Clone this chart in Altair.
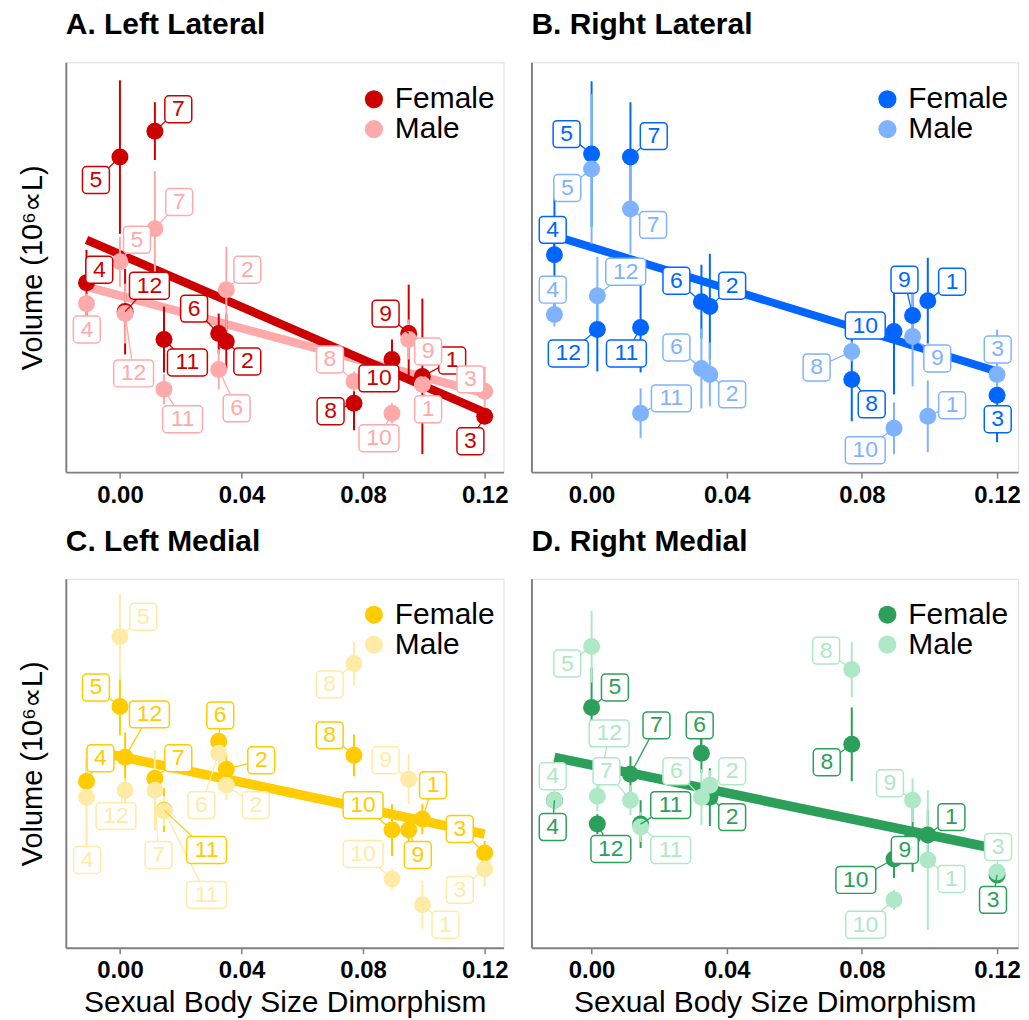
import altair as alt
import pandas as pd

FONT = "Liberation Sans"

species = [1, 2, 3, 4, 5, 6, 7, 8, 9, 10, 11, 12]
ssd = [0.0995, 0.035, 0.12, -0.011, 0.0, 0.0325, 0.0115, 0.077, 0.095, 0.0895, 0.0145, 0.0017]
x_ticks = [0.0, 0.04, 0.08, 0.12]
line_x = [-0.011, 0.12]

# ---- Panel A: Left Lateral (relative volume units) ----
A_female_vol = [96, 131, 56, 190, 316, 139, 342, 69, 139, 113, 133, 161]
A_female_err = [78, 28, 8, 33, 77, 20, 29, 27, 49, 20, 33, 43]
A_male_vol = [88, 183, 81, 169, 211, 103, 244, 91, 133, 59, 83, 159]
A_male_err = [8, 43, 25, 10, 25, 20, 58, 10, 20, 10, 15, 30]
A_female_lab_x = [0.1093, 0.0419, 0.1153, -0.0068, -0.0079, 0.0244, 0.0192, 0.0693, 0.0874, 0.0852, 0.0222, 0.0097]
A_female_lab_y = [112, 111, 31, 203, 293, 164, 364, 61, 159, 94, 110, 187]
A_male_lab_x = [0.1014, 0.0419, 0.1153, -0.0109, 0.0056, 0.0384, 0.0195, 0.0691, 0.1014, 0.0852, 0.0206, 0.0045]
A_male_lab_y = [63, 203, 93, 143, 233, 64, 271, 113, 121, 34, 53, 99]
A_fit_female = [233, 60]
A_fit_male = [186, 79]

# ---- Panel B: Right Lateral ----
B_female_vol = [172, 166, 77, 218, 319, 171, 316, 93, 157, 141, 145, 143]
B_female_err = [43, 53, 47, 61, 73, 37, 55, 42, 25, 63, 45, 42]
B_male_vol = [56, 98, 98, 158, 304, 104, 264, 121, 136, 44, 59, 177]
B_male_err = [36, 32, 45, 12, 75, 40, 45, 10, 50, 26, 25, 39]
B_female_lab_x = [0.1067, 0.0416, 0.1202, -0.0115, -0.0074, 0.0251, 0.0184, 0.0829, 0.0926, 0.081, 0.0103, -0.0069]
B_female_lab_y = [191, 187, 53, 243, 339, 192, 337, 68, 193, 147, 119, 119]
B_male_lab_x = [0.1067, 0.0416, 0.1202, -0.0115, -0.0072, 0.0251, 0.0182, 0.0666, 0.1023, 0.081, 0.0236, 0.0101]
B_male_lab_y = [67, 78, 123, 183, 285, 125, 248, 105, 114, 22, 74, 201]
B_fit_female = [237, 101]

# ---- Panel C: Left Medial ----
C_female_vol = [129, 179, 95, 167, 242, 207, 170, 193, 118, 118, 138, 191]
C_female_err = [15, 15, 12, 22, 29, 8, 10, 21, 15, 26, 22, 25]
C_male_vol = [43, 163, 79, 151, 312, 195, 158, 285, 169, 69, 137, 158]
C_male_err = [24, 15, 18, 48, 43, 12, 40, 22, 25, 10, 15, 12]
C_female_lab_x = [0.103, 0.0465, 0.1118, -0.0064, -0.0079, 0.033, 0.0192, 0.069, 0.098, 0.08, 0.0285, 0.0097]
C_female_lab_y = [163, 188, 119, 190, 261, 233, 190, 213, 93, 143, 98, 234]
C_male_lab_x = [0.1071, 0.0447, 0.1118, -0.0108, 0.0077, 0.0268, 0.0127, 0.069, 0.0874, 0.08, 0.0285, -0.0013]
C_male_lab_y = [23, 143, 58, 88, 332, 143, 93, 264, 188, 94, 53, 132]
C_fit_female = [199, 114]

# ---- Panel D: Right Medial ----
D_female_vol = [113, 151, 73, 148, 241, 195, 174, 204, 111, 89, 124, 124]
D_female_err = [25, 29, 8, 8, 40, 20, 18, 37, 35, 19, 24, 10]
D_male_vol = [88, 163, 76, 148, 302, 151, 148, 279, 148, 48, 121, 152]
D_male_err = [70, 15, 8, 8, 36, 28, 15, 28, 22, 10, 15, 15]
D_female_lab_x = [0.1065, 0.0416, 0.1188, -0.0115, 0.0069, 0.032, 0.0192, 0.0696, 0.0927, 0.0782, 0.0234, 0.0057]
D_female_lab_y = [131, 131, 48, 121, 261, 223, 223, 186, 98, 68, 143, 99]
D_male_lab_x = [0.1065, 0.0416, 0.1203, -0.0115, -0.0072, 0.0251, 0.0044, 0.0694, 0.0883, 0.0811, 0.0234, 0.0052]
D_male_lab_y = [69, 177, 101, 172, 285, 177, 177, 298, 165, 23, 98, 215]
D_fit_female = [191, 99]

X_DOMAIN = [-0.0178, 0.1262]


def build_panel(title, f_vol, f_err, m_vol, m_err, flx, fly, mlx, mly, fits,
                colors, width, height, ymax, ytitle, xtitle, leg_x, leg_y, fit_w):
    rows = []
    for sex, vol, err, lx, ly in [("Female", f_vol, f_err, flx, fly),
                                  ("Male", m_vol, m_err, mlx, mly)]:
        for i in range(12):
            rows.append(dict(sp=species[i], ssd=ssd[i], vol=vol[i],
                             lo=vol[i] - err[i], hi=vol[i] + err[i],
                             lx=lx[i], ly=ly[i], sex=sex, col=colors[sex],
                             lab=str(species[i]), nd=len(str(species[i]))))
    df = pd.DataFrame(rows)
    fit_rows = []
    for sex, ys in fits:
        fit_rows.append(dict(x=line_x[0], x2=line_x[1], y=ys[0], y2=ys[1], col=colors[sex]))
    dfl = pd.DataFrame(fit_rows)

    xs = alt.Scale(domain=X_DOMAIN, nice=False, zero=False)
    ys_ = alt.Scale(domain=[0, ymax], nice=False, zero=False)
    if xtitle:
        xa = alt.Axis(values=x_ticks, format=".2f", title=xtitle)
    else:
        xa = alt.Axis(values=x_ticks, format=".2f", title=None)
    if ytitle:
        ya = alt.Axis(title=ytitle)
    else:
        ya = alt.Axis(title=None)

    colnone = alt.Color("col:N", scale=None)

    fit = alt.Chart(dfl).mark_rule(strokeWidth=fit_w, strokeCap="butt").encode(
        x=alt.X("x:Q", scale=xs, axis=xa), x2="x2:Q",
        y=alt.Y("y:Q", scale=ys_, axis=ya), y2="y2:Q",
        color=colnone)
    err = alt.Chart(df).mark_rule(strokeWidth=2).encode(
        x=alt.X("ssd:Q", scale=xs, axis=xa),
        y=alt.Y("lo:Q", scale=ys_, axis=ya), y2="hi:Q",
        color=colnone)
    pts = alt.Chart(df).mark_circle(size=290, opacity=1).encode(
        x=alt.X("ssd:Q", scale=xs, axis=xa),
        y=alt.Y("vol:Q", scale=ys_, axis=ya),
        color=alt.Color("sex:N",
                        scale=alt.Scale(domain=["Female", "Male"],
                                        range=[colors["Female"], colors["Male"]]),
                        legend=alt.Legend(title=None, orient="none",
                                          legendX=leg_x, legendY=leg_y)))
    seg = alt.Chart(df).mark_rule(strokeWidth=1.3).encode(
        x=alt.X("ssd:Q", scale=xs, axis=xa), x2="lx:Q",
        y=alt.Y("vol:Q", scale=ys_, axis=ya), y2="ly:Q",
        color=colnone)
    box1 = alt.Chart(df).transform_filter(alt.datum.nd == 1).mark_rect(
        width=27, height=27, cornerRadius=4, fill="white", strokeWidth=1.5).encode(
        x=alt.X("lx:Q", scale=xs, axis=xa),
        y=alt.Y("ly:Q", scale=ys_, axis=ya),
        stroke=alt.Stroke("col:N", scale=None))
    box2 = alt.Chart(df).transform_filter(alt.datum.nd == 2).mark_rect(
        width=40, height=27, cornerRadius=4, fill="white", strokeWidth=1.5).encode(
        x=alt.X("lx:Q", scale=xs, axis=xa),
        y=alt.Y("ly:Q", scale=ys_, axis=ya),
        stroke=alt.Stroke("col:N", scale=None))
    txt = alt.Chart(df).mark_text(font=FONT, fontSize=23, baseline="middle", align="center").encode(
        x=alt.X("lx:Q", scale=xs, axis=xa),
        y=alt.Y("ly:Q", scale=ys_, axis=ya),
        text="lab:N",
        color=colnone)
    return alt.layer(fit, err, pts, seg, box1, box2, txt).properties(
        width=width, height=height,
        title=alt.TitleParams(title, anchor="start", fontSize=30, fontWeight="bold",
                              font=FONT, color="black", offset=-2,
                              baseline="alphabetic", frame="group"))


YT = "Volume (10\u2076\u221dL)"
XT = "Sexual Body Size Dimorphism"

pA = build_panel("A. Left Lateral", A_female_vol, A_female_err, A_male_vol, A_male_err,
                 A_female_lab_x, A_female_lab_y, A_male_lab_x, A_male_lab_y,
                 [("Male", A_fit_male), ("Female", A_fit_female)],
                 {"Female": "#CC0000", "Male": "#FFAAAA"}, 439, 411, 411, YT, None, 294, 22, 8.5)
pB = build_panel("B. Right Lateral", B_female_vol, B_female_err, B_male_vol, B_male_err,
                 B_female_lab_x, B_female_lab_y, B_male_lab_x, B_male_lab_y,
                 [("Female", B_fit_female)],
                 {"Female": "#0066FF", "Male": "#80B3FF"}, 488, 411, 411, None, None, 342, 22, 8)
pC = build_panel("C. Left Medial", C_female_vol, C_female_err, C_male_vol, C_male_err,
                 C_female_lab_x, C_female_lab_y, C_male_lab_x, C_male_lab_y,
                 [("Female", C_fit_female)],
                 {"Female": "#FFCC00", "Male": "#FFEBA5"}, 439, 370, 370, YT, XT, 294, 21, 9.5)
pD = build_panel("D. Right Medial", D_female_vol, D_female_err, D_male_vol, D_male_err,
                 D_female_lab_x, D_female_lab_y, D_male_lab_x, D_male_lab_y,
                 [("Female", D_fit_female)],
                 {"Female": "#2CA05A", "Male": "#AEE8C6"}, 488, 370, 370, None, XT, 342, 21, 9.5)

chart = alt.concat(pA, pB, pC, pD, columns=2, spacing={"row": 107, "column": 28},
                   bounds="flush").resolve_scale(
    color="independent", x="independent", y="independent").resolve_legend(
    color="independent").properties(
    padding={"left": 10, "top": 0, "right": 0, "bottom": 0}
).configure_view(stroke=None).configure(font=FONT).configure_axis(
    domainColor="#808080", domainWidth=2, tickColor="#808080", tickWidth=1.5, tickSize=6,
    labelFont=FONT, labelFontSize=24, labelFontWeight="bold", labelColor="black",
    labelPadding=5, titleFont=FONT, titleFontSize=30, titleFontWeight="normal",
    titleColor="black", grid=False
).configure_axisY(ticks=False, labels=False, titlePadding=18, titleFontSize=29
).configure_axisX(titlePadding=5
).configure_legend(labelFont=FONT, labelFontSize=30, labelColor="black", symbolSize=330,
                   symbolType="circle", labelOffset=6, rowPadding=-1.5, padding=0,
                   symbolStrokeWidth=0, labelLimit=400)

chart.save("out.html", embed_options={"renderer": "svg", "actions": False})
